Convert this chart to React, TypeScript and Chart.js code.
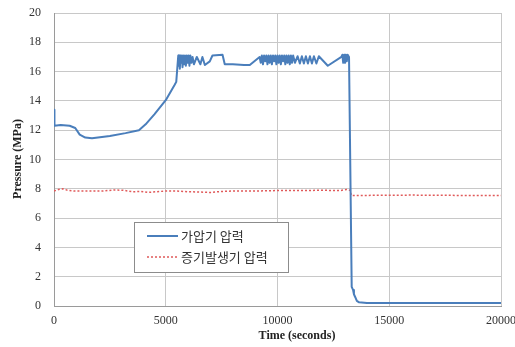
import React, { useEffect, useRef } from "react";
import { Chart, registerables } from "chart.js";

Chart.register(...registerables);

// Pressurizer pressure (가압기 압력)
const pzrTime = [
  0, 20, 300, 700, 950, 1150, 1400, 1700, 2500, 3200, 3800, 4100, 4500, 5000, 5400, 5470, 5520, 5560,
  5580, 5600, 5630, 5660, 5690, 5720, 5750, 5780, 5820, 5860, 5900, 5940, 5980, 6020, 6060, 6100, 6150, 6200, 6260,
  6390, 6550, 6640, 6750, 6970, 7090, 7540, 7640, 8000, 8500, 8760, 9200,
  9250, 9300, 9350, 9400, 9450, 9500, 9550, 9600, 9650, 9700, 9750, 9800, 9850, 9900, 9950, 10000, 10050, 10100,
  10150, 10200, 10250, 10300, 10350, 10400, 10450, 10500, 10550, 10600, 10650, 10700, 10780,
  10900, 11000, 11090, 11180, 11270, 11360, 11450, 11540, 11630, 11740, 11850, 12250, 12860,
  12900, 12940, 12980, 13020, 13060, 13100, 13140, 13200, 13320, 13380, 13420, 13480, 13550, 13650, 14000, 20000,
];
const pzrPressure = [
  13.4, 12.3, 12.35, 12.3, 12.15, 11.7, 11.5, 11.45, 11.6, 11.8, 12.0, 12.4, 13.1, 14.05, 15.1, 15.3, 16.3, 17.1,
  16.4, 17.1, 16.2, 17.1, 16.6, 17.1, 16.3, 17.1, 16.5, 17.1, 16.4, 17.1, 16.6, 17.1, 16.4, 17.1, 16.6, 17.0, 16.5,
  17.0, 16.5, 17.0, 16.45, 16.7, 17.1, 17.15, 16.5, 16.5, 16.45, 16.45, 17.0,
  16.6, 17.1, 16.5, 17.1, 16.7, 17.1, 16.5, 17.1, 16.6, 17.1, 16.5, 17.1, 16.7, 17.1, 16.5, 17.1, 16.6, 17.1,
  16.5, 17.1, 16.7, 17.1, 16.5, 17.1, 16.6, 17.1, 16.5, 17.1, 16.6, 17.1, 16.6,
  17.05, 16.55, 17.05, 16.55, 17.05, 16.55, 17.05, 16.55, 17.05, 16.55, 17.05, 16.4, 17.0,
  17.15, 16.6, 17.15, 16.6, 17.15, 16.7, 17.15, 17.0, 1.3, 1.1, 0.8, 0.6, 0.35, 0.25, 0.2, 0.2,
];

// Steam generator pressure (증기발생기 압력)
const sgTime = [
  0, 200, 400, 600, 900, 1500, 2200, 2700, 3100, 3500, 3900, 4200, 4600, 5000, 5500, 6000, 6500, 7000, 7500,
  8000, 9000, 10000, 11000, 12000, 12800, 13100, 13250, 13300, 14000, 16000, 18000, 20000,
];
const sgPressure = [
  7.85, 7.95, 8.0, 7.9, 7.85, 7.85, 7.85, 7.92, 7.9, 7.8, 7.82, 7.75, 7.8, 7.85, 7.85, 7.8, 7.78, 7.75, 7.82,
  7.85, 7.85, 7.88, 7.88, 7.9, 7.88, 7.95, 7.9, 7.55, 7.55, 7.57, 7.55, 7.55,
];

const seriesLabels = ["가압기 압력", "증기발생기 압력"];
const xTitle = "Time (seconds)";
const yTitle = "Pressure (MPa)";

const BLUE = "#4a7ebb";
const RED = "#e05a5a";
const SERIF = "Liberation Serif, Times New Roman, serif";

export default function App() {
  const ref = useRef<HTMLCanvasElement | null>(null);

  useEffect(() => {
    if (!ref.current) return;
    const overlay = {
      id: "overlay",
      afterDraw(chart: any) {
        const ctx = chart.ctx as CanvasRenderingContext2D;
        ctx.save();
        ctx.fillStyle = "#222";
        ctx.font = "bold 12px " + SERIF;
        ctx.textAlign = "center";
        ctx.textBaseline = "middle";
        ctx.fillText(xTitle, 297, 336);
        ctx.translate(18, 159);
        ctx.rotate(-Math.PI / 2);
        ctx.fillText(yTitle, 0, 0);
        ctx.restore();

        ctx.save();
        const bx = 134.5, by = 222.5, bw = 154, bh = 50;
        ctx.fillStyle = "#fff";
        ctx.fillRect(bx, by, bw, bh);
        ctx.strokeStyle = "#8c8c8c";
        ctx.lineWidth = 1;
        ctx.strokeRect(bx, by, bw, bh);
        const rows = [236, 257];
        ctx.font = "13px 'Noto Sans CJK KR'";
        ctx.textBaseline = "middle";
        ctx.textAlign = "left";
        ctx.strokeStyle = BLUE;
        ctx.lineWidth = 2;
        ctx.beginPath();
        ctx.moveTo(147, rows[0]);
        ctx.lineTo(178, rows[0]);
        ctx.stroke();
        ctx.fillStyle = "#333";
        ctx.fillText(seriesLabels[0], 181, rows[0]);
        ctx.strokeStyle = RED;
        ctx.lineWidth = 1.5;
        ctx.setLineDash([2, 2]);
        ctx.beginPath();
        ctx.moveTo(147, rows[1]);
        ctx.lineTo(178, rows[1]);
        ctx.stroke();
        ctx.setLineDash([]);
        ctx.fillText(seriesLabels[1], 181, rows[1]);
        ctx.restore();
      },
    };

    const tickFont = { family: SERIF, size: 12 };

    const chart = new Chart(ref.current, {
      type: "line",
      data: {
        datasets: [
          {
            label: seriesLabels[0],
            data: pzrTime.map((t, i) => ({ x: t, y: pzrPressure[i] })),
            borderColor: BLUE,
            borderWidth: 2,
            borderJoinStyle: "round",
            pointRadius: 0,
            tension: 0,
          },
          {
            label: seriesLabels[1],
            data: sgTime.map((t, i) => ({ x: t, y: sgPressure[i] })),
            borderColor: RED,
            borderWidth: 1.5,
            borderDash: [2, 2],
            pointRadius: 0,
            tension: 0,
          },
        ],
      },
      options: {
        animation: false,
        responsive: false,
        devicePixelRatio: 1,
        layout: { padding: { top: 13, right: 14, left: 0, bottom: 0 } },
        plugins: { legend: { display: false }, tooltip: { enabled: false } },
        scales: {
          x: {
            type: "linear",
            min: 0,
            max: 20000,
            afterFit: (s: any) => {
              s.height = 41;
              s.paddingLeft = 0;
              s.paddingRight = 0;
            },
            ticks: {
              stepSize: 5000,
              padding: 8,
              color: "#333",
              font: tickFont,
              callback: (v: any) => String(v),
            },
            grid: { color: "#c8c8c8", drawTicks: false },
            border: { color: "#9a9a9a" },
          },
          y: {
            min: 0,
            max: 20,
            afterFit: (s: any) => {
              s.width = 54;
              s.paddingTop = 0;
              s.paddingBottom = 0;
            },
            ticks: {
              stepSize: 2,
              padding: 13,
              color: "#333",
              font: tickFont,
              callback: (v: any) => String(v),
            },
            grid: { color: "#c8c8c8", drawTicks: false },
            border: { color: "#9a9a9a" },
          },
        },
      },
      plugins: [overlay],
    } as any);
    return () => chart.destroy();
  }, []);

  return (
    <div style={{ position: "absolute", left: 0, top: 0, width: 515, height: 347, background: "#fff" }}>
      <canvas ref={ref} width={515} height={347} />
    </div>
  );
}
